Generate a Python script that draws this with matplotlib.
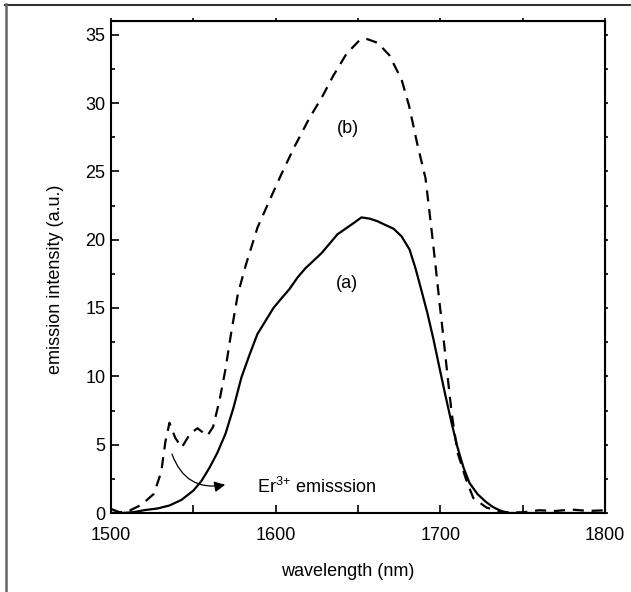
import matplotlib.pyplot as plt
from matplotlib.lines import Line2D
from matplotlib.ticker import MultipleLocator

plt.rcParams['font.family'] = ['Liberation Sans', 'DejaVu Sans']

# curve (a), solid
wl_a = [1500, 1506.3, 1513.6, 1520.9, 1528.2, 1535.5, 1542.8, 1550.1, 1554.9, 1559.8,
        1564.6, 1569.5, 1574.4, 1579.2, 1584.1, 1588.9, 1593.8, 1598.7, 1603.5, 1608.4,
        1613.2, 1618.1, 1623.0, 1627.8, 1632.7, 1637.5, 1642.4, 1647.3, 1652.1, 1657.0,
        1661.8, 1666.7, 1671.6, 1676.4, 1681.3, 1684.9, 1688.6, 1692.2, 1695.9, 1699.5,
        1703.2, 1706.8, 1710.4, 1714.1, 1717.7, 1722.6, 1727.5, 1732.3, 1737.2, 1742.0,
        1760, 1780, 1800]
int_a = [0.3, 0.0, 0.06, 0.22, 0.33, 0.55, 0.96, 1.65, 2.34, 3.31,
         4.41, 5.79, 7.71, 9.92, 11.57, 13.09, 14.05, 15.01, 15.70, 16.39,
         17.22, 17.91, 18.46, 19.01, 19.70, 20.39, 20.80, 21.21, 21.63, 21.54,
         21.35, 21.07, 20.80, 20.25, 19.28, 17.91, 16.25, 14.60, 12.67, 10.61,
         8.54, 6.61, 4.82, 3.31, 2.20, 1.38, 0.83, 0.41, 0.14, 0.0,
         0.0, 0.0, 0.0]

# curve (b), dashed
wl_b = [1500, 1510, 1518.5, 1526, 1530.5, 1533, 1535.5, 1539, 1543, 1548, 1552.5,
        1558.5, 1562, 1566, 1569.5, 1573, 1577, 1582, 1589, 1596, 1603.5, 1611,
        1620.5, 1628, 1635, 1643, 1651, 1655, 1662, 1669, 1676.5, 1681, 1686,
        1691, 1694.5, 1697, 1699.5, 1702, 1704.5, 1707, 1710.5, 1715.5, 1720,
        1728, 1738, 1750, 1760, 1770, 1780, 1790, 1800]
int_b = [0.0, 0.1, 0.6, 1.4, 3.0, 5.2, 6.6, 5.5, 4.8, 5.8, 6.2,
         5.65, 6.3, 8.3, 10.5, 13.2, 16.0, 18.2, 20.9, 22.8, 24.8, 26.7,
         28.9, 30.4, 32.0, 33.6, 34.6, 34.7, 34.4, 33.5, 31.7, 29.8, 27.0,
         24.5, 20.9, 18.2, 15.4, 12.7, 9.9, 7.2, 4.4, 2.5, 1.1,
         0.4, 0.05, 0.05, 0.2, 0.15, 0.25, 0.15, 0.2]

fig = plt.figure(figsize=(6.31, 5.92), dpi=100)
ax = fig.add_axes([111 / 631, 1 - 513 / 592, 494 / 631, 492 / 592])

ax.plot(wl_a, int_a, color='black', lw=1.6)
ax.plot(wl_b, int_b, color='black', lw=1.6, dashes=(5, 3.5))

ax.set_xlim(1500, 1800)
ax.set_ylim(0, 36)
ax.xaxis.set_major_locator(MultipleLocator(100))
ax.xaxis.set_minor_locator(MultipleLocator(50))
ax.yaxis.set_major_locator(MultipleLocator(5))
ax.yaxis.set_minor_locator(MultipleLocator(2.5))
ax.tick_params(which='both', labelsize=13, width=1.2)
ax.tick_params(axis='x', which='both', direction='in', length=6, pad=10)
ax.tick_params(axis='y', which='major', direction='in', length=6, pad=4)
ax.tick_params(axis='y', which='minor', direction='in', length=3)
for s in ax.spines.values():
    s.set_linewidth(1.5)

# short outward ticks on top and right
top = ax.secondary_xaxis('top')
top.xaxis.set_major_locator(MultipleLocator(50))
top.tick_params(direction='out', length=2.5, width=1.2, labeltop=False)
right = ax.secondary_yaxis('right')
right.yaxis.set_major_locator(MultipleLocator(2.5))
right.tick_params(direction='out', length=2.5, width=1.2, labelright=False)

ax.set_xlabel('wavelength (nm)', fontsize=13, va='center')
ax.xaxis.set_label_coords(0.48, -0.118)
ax.set_ylabel('emission intensity (a.u.)', fontsize=13, va='center')
ax.yaxis.set_label_coords(-0.113, 0.474)

ax.text(1644, 28.1, '(b)', fontsize=13, ha='center', va='center')
ax.text(1643, 16.8, '(a)', fontsize=13, ha='center', va='center')
ax.annotate('', xy=(1571, 2.1), xytext=(1536.5, 4.5),
            arrowprops=dict(arrowstyle='-|>', color='black', lw=0.9,
                            connectionstyle='arc3,rad=0.45', mutation_scale=16))
ax.text(1588.7, 1.9, r'Er$^{\mathregular{3{+}}}$ emisssion', fontsize=13,
        ha='left', va='center')

# outer frame (top and left edges only)
fig.add_artist(Line2D([5 / 631, 1], [1 - 4.5 / 592, 1 - 4.5 / 592],
                      transform=fig.transFigure, color='#333333', lw=1.5))
fig.add_artist(Line2D([5.5 / 631, 5.5 / 631], [0, 1 - 4 / 592],
                      transform=fig.transFigure, color='#666666', lw=1.8))

fig.savefig('out.png', dpi=100)
